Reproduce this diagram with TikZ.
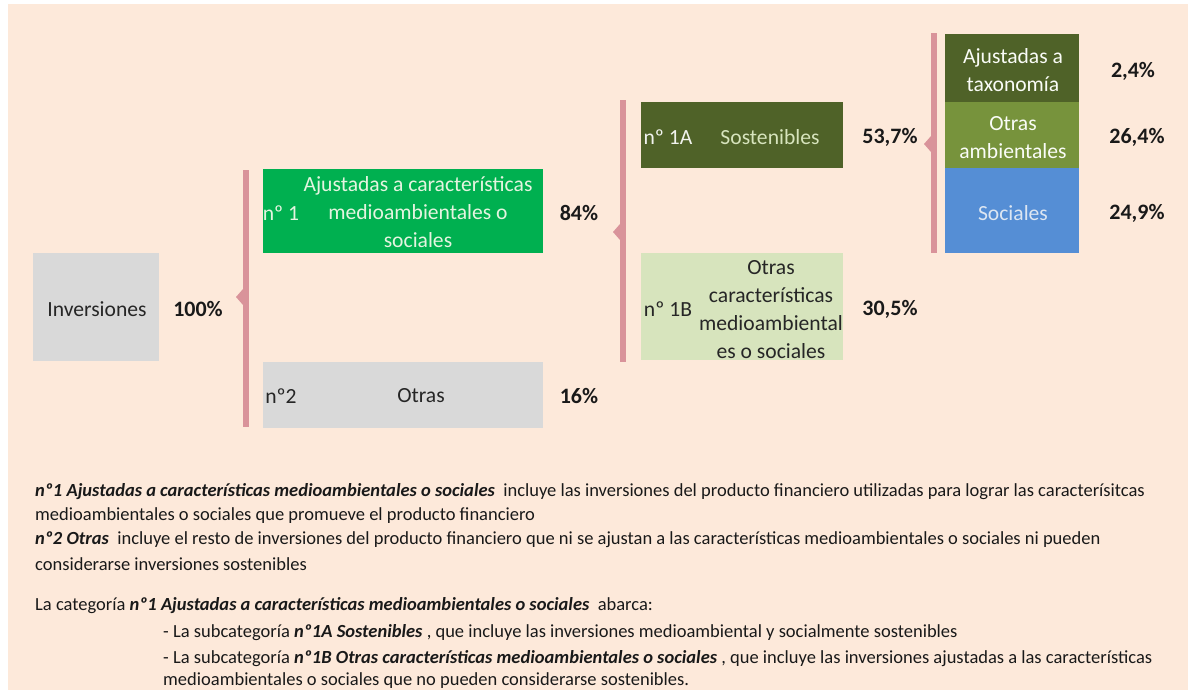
\documentclass[tikz,border=0pt]{standalone}
\usepackage{fontspec}
\setmainfont{Carlito}
\definecolor{peach}{HTML}{FDE9DA}
\definecolor{brk}{HTML}{D9939A}
\definecolor{gry}{HTML}{D9D9D9}
\definecolor{grn}{HTML}{00B050}
\definecolor{olive}{HTML}{4F6228}
\definecolor{lgrn}{HTML}{D7E4BD}
\definecolor{mgrn}{HTML}{77933C}
\definecolor{blu}{HTML}{558ED5}
\definecolor{txt}{HTML}{262626}
\definecolor{ltxt}{HTML}{E4F4E0}
\definecolor{btxt}{HTML}{DCE6F2}
\newcommand{\bi}[1]{\textbf{\textit{#1}}}
\tikzset{
  box/.style={draw=none, inner sep=0pt, outer sep=0pt},
  lbl/.style={inner sep=0pt, font=\fontsize{21.6}{28}\selectfont, text=txt, align=center},
  pct/.style={inner sep=0pt, font=\fontsize{22}{28}\selectfont\bfseries, text=black!90},
  note/.style={inner sep=0pt, anchor=base west, font=\fontsize{18.5}{22}\selectfont, text=black!90},
}
\begin{document}
\begin{tikzpicture}[x=1pt,y=-1pt]
\useasboundingbox (0,0) rectangle (1188,690);
\fill[white] (0,0) rectangle (1188,690);
\fill[peach] (8,4) rectangle (1188,690);
% brackets
\fill[brk] (243,170) rectangle (249,427);
\fill[brk] (243,289) -- (236,297) -- (243,305) -- cycle;
\fill[brk] (620,100) rectangle (626,362);
\fill[brk] (620,224) -- (613,232) -- (620,240) -- cycle;
\fill[brk] (931,33) rectangle (937,253);
\fill[brk] (931,136) -- (924,144) -- (931,152) -- cycle;
% boxes
\node[box, fill=gry, minimum width=126pt, minimum height=108pt] (inv) at (96,307) {};
\node[box, fill=grn, minimum width=280pt, minimum height=84pt] (n1) at (403,211) {};
\node[box, fill=gry, minimum width=280pt, minimum height=66pt] (n2) at (403,395) {};
\node[box, fill=olive, minimum width=202pt, minimum height=66pt] (n1a) at (742,135) {};
\node[box, fill=lgrn, minimum width=202pt, minimum height=107pt] (n1b) at (742,306.5) {};
\node[box, fill=olive, minimum width=134pt, minimum height=68pt] (tax) at (1012,68) {};
\node[box, fill=mgrn, minimum width=134pt, minimum height=66pt] (oam) at (1012,135) {};
\node[box, fill=blu, minimum width=134pt, minimum height=85pt] (soc) at (1012,210.5) {};
% texts
\node[lbl] (tinv) at (97,309) {Inversiones};
\node[pct] (p100) at (198,309) {100\%};
\node[lbl, text=ltxt] (tn1a) at (281,213) {nº 1};
\node[lbl, text=ltxt] (tn1b) at (418,212) {Ajustadas a características\\medioambientales o\\sociales};
\node[pct] (p84) at (579,213) {84\%};
\node[lbl] (tn2a) at (281,396) {nº2};
\node[lbl] (tn2b) at (421,396) {Otras};
\node[pct] (p16) at (579,396) {16\%};
\node[lbl, text=white!92!olive] (t1aa) at (668,137) {nº 1A};
\node[lbl, text=lgrn] (t1ab) at (770,137) {Sostenibles};
\node[pct] (p537) at (890,137) {53,7\%};
\node[lbl] (t1ba) at (668,309) {nº 1B};
\node[lbl] (t1bb) at (771,310) {Otras\\características\\medioambiental\\es o sociales};
\node[pct] (p305) at (890,309) {30,5\%};
\node[lbl, text=white!88!lgrn] (ttax) at (1013,70) {Ajustadas a\\taxonomía};
\node[lbl, text=white!88!lgrn] (toam) at (1013,138) {Otras\\ambientales};
\node[lbl, text=btxt] (tsoc) at (1013,213) {Sociales};
\node[pct] (p24) at (1133,71) {2,4\%};
\node[pct] (p264) at (1137,137) {26,4\%};
\node[pct] (p249) at (1137,213) {24,9\%};
% notes
\node[note] (l1) at (35,496) {\bi{nº1 Ajustadas a características medioambientales o sociales}\ \ incluye las inversiones del producto financiero utilizadas para lograr las caracterísitcas};
\node[note] (l2) at (35,520) {medioambientales o sociales que promueve el producto financiero};
\node[note] (l3) at (35,544) {\bi{nº2 Otras}\ \ incluye el resto de inversiones del producto financiero que ni se ajustan a las características medioambientales o sociales ni pueden};
\node[note] (l4) at (35,570) {considerarse inversiones sostenibles};
\node[note] (l5) at (35,610) {La categoría \bi{nº1 Ajustadas a características medioambientales o sociales}\ \ abarca:};
\node[note] (l6) at (163,637) {- La subcategoría \bi{nº1A Sostenibles} , que incluye las inversiones medioambiental y socialmente sostenibles};
\node[note] (l7) at (163,663) {- La subcategoría \bi{nº1B Otras características medioambientales o sociales} , que incluye las inversiones ajustadas a las características};
\node[note] (l8) at (163,685) {medioambientales o sociales que no pueden considerarse sostenibles.};
\end{tikzpicture}
\end{document}
